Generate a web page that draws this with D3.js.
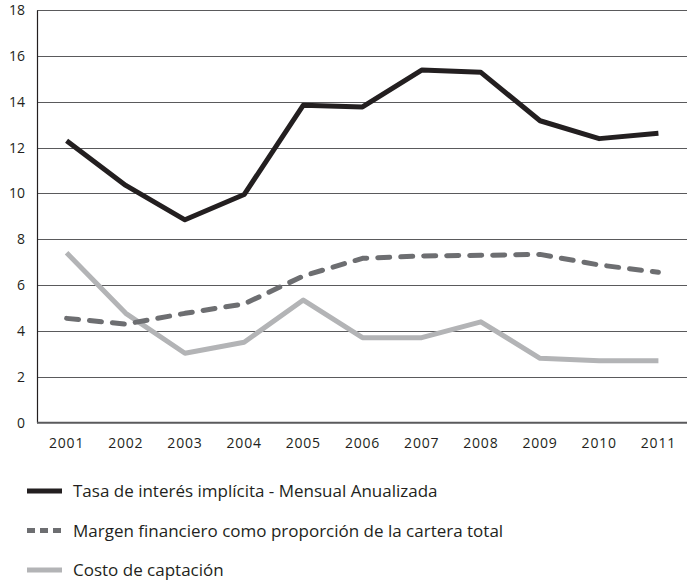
<!DOCTYPE html>
<html>
<head>
<meta charset="utf-8">
<script src="https://cdn.jsdelivr.net/npm/d3@7"></script>
<style>
  body { margin: 0; background: #fff; }
  text { font-family: "Open Sans", sans-serif; fill: #231f20; }
</style>
</head>
<body>
<div id="chart"></div>
<script>
// data
var years = ["2001","2002","2003","2004","2005","2006","2007","2008","2009","2010","2011"];
var tasa = [12.3, 10.35, 8.85, 9.95, 13.85, 13.77, 15.38, 15.28, 13.17, 12.39, 12.62];
var margen = [4.55, 4.3, 4.77, 5.18, 6.4, 7.17, 7.27, 7.3, 7.34, 6.88, 6.56];
var costo = [7.41, 4.77, 3.03, 3.51, 5.35, 3.71, 3.71, 4.4, 2.81, 2.7, 2.7];
var yTicks = [0, 2, 4, 6, 8, 10, 12, 14, 16, 18];
var legendLabels = [
  "Tasa de interés implícita - Mensual Anualizada",
  "Margen financiero como proporción de la cartera total",
  "Costo de captación"
];

function drawChart() {
  var width = 687, height = 582;
  var mLeft = 37, mRight = 688, mTop = 10, mBottom = 422.7;

  var svg = d3.select("#chart").append("svg")
    .attr("width", width)
    .attr("height", height);

  var x = d3.scaleBand().domain(years).range([mLeft, mRight]);
  var y = d3.scaleLinear().domain([0, 18]).range([mBottom, mTop]);

  // gridlines
  svg.append("g")
    .selectAll("line")
    .data(yTicks.filter(function(d){ return d > 0; }))
    .join("line")
    .attr("x1", mLeft).attr("x2", width)
    .attr("y1", function(d){ return Math.round(y(d)) + 0.5; })
    .attr("y2", function(d){ return Math.round(y(d)) + 0.5; })
    .style("stroke", "#5a5a5c")
    .style("stroke-width", 1);

  // y axis
  var yAxis = svg.append("g")
    .attr("transform", "translate(" + mLeft + ",0)")
    .call(d3.axisLeft(y).tickValues(yTicks).tickSize(0).tickPadding(12));
  yAxis.select(".domain").attr("stroke", "#231f20").attr("stroke-width", 1.2);
  yAxis.selectAll("text").style("font-size", "14px").attr("fill", "#231f20");

  // x axis
  var xAxis = svg.append("g")
    .attr("transform", "translate(0," + mBottom + ")")
    .call(d3.axisBottom(x).tickSize(0).tickPadding(15));
  xAxis.select(".domain").remove();
  xAxis.selectAll("text").style("font-size", "14px").style("letter-spacing", "0.8px").attr("fill", "#231f20");
  svg.append("line")
    .attr("x1", mLeft).attr("x2", width)
    .attr("y1", mBottom).attr("y2", mBottom)
    .style("stroke", "#5a5a5c")
    .style("stroke-width", 2);

  var series = [
    {values: tasa, color: "#231f20", dash: null},
    {values: margen, color: "#6d6e71", dash: "12,11"},
    {values: costo, color: "#b3b4b6", dash: null}
  ];

  var line = d3.line()
    .x(function(d, i){ return x(years[i]) + x.bandwidth() / 2; })
    .y(function(d){ return y(d); });

  // draw gray first so the dark lines sit on top
  [series[2], series[1], series[0]].forEach(function(s){
    svg.append("path")
      .datum(s.values)
      .attr("d", line)
      .attr("fill", "none")
      .style("stroke", s.color)
      .style("stroke-width", 5)
      .style("stroke-linejoin", "round")
      .style("stroke-linecap", s.dash ? "round" : "butt")
      .style("stroke-dasharray", s.dash);
  });

  // legend
  var legend = svg.append("g");
  series.forEach(function(s, i){
    var ly = 491 + i * 39.5;
    legend.append("line")
      .attr("x1", 27).attr("x2", 62)
      .attr("y1", ly).attr("y2", ly)
      .style("stroke", s.color)
      .style("stroke-width", 5)
      .style("stroke-dasharray", s.dash ? "8,5" : null);
    legend.append("text")
      .attr("x", 73)
      .attr("y", ly + 6)
      .style("font-size", "17px")
      .text(legendLabels[i]);
  });
}

drawChart();
</script>
</body>
</html>
